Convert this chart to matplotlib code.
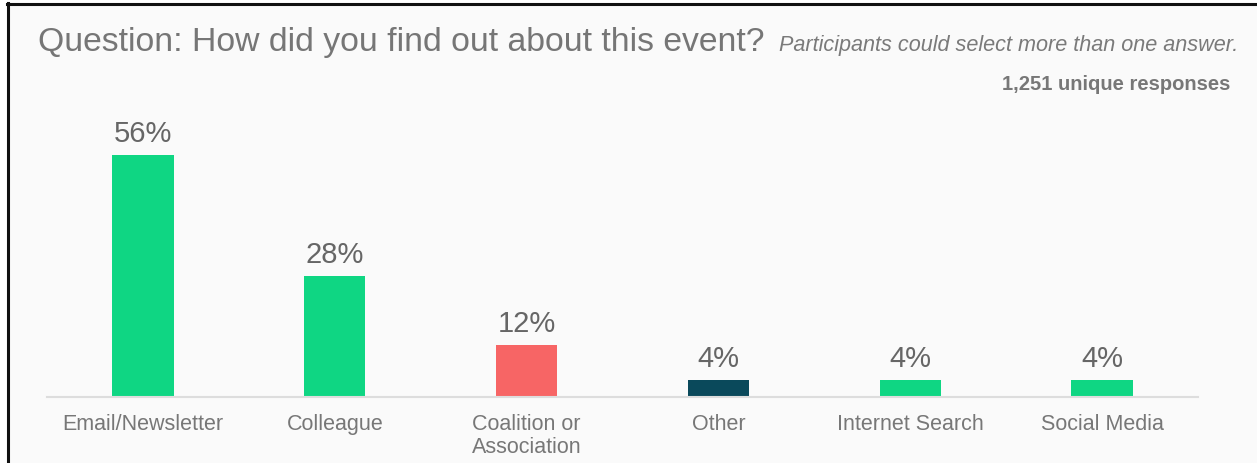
import matplotlib.pyplot as plt
from matplotlib.lines import Line2D

plt.rcParams['font.family'] = ['Liberation Sans', 'DejaVu Sans']

categories = ["Email/Newsletter", "Colleague", "Coalition or\nAssociation",
              "Other", "Internet Search", "Social Media"]
percents = [56, 28, 12, 4, 4, 4]
colors = ["#0fd683", "#0fd683", "#f76565", "#0a495b", "#0fd683", "#0fd683"]

W, H = 1257, 463
fig = plt.figure(figsize=(W / 100, H / 100), dpi=100)
fig.patch.set_facecolor("white")

# light panel with a dark frame on the left and top edges
panel = plt.Rectangle((8 / W, 0), 1 - 8 / W, 1 - 4 / H, transform=fig.transFigure,
                      facecolor="#fafafa", edgecolor="none", zorder=-2)
fig.patches.append(panel)
fig.lines.append(Line2D([8 / W, 8 / W], [0, 1 - 3 / H], transform=fig.transFigure,
                        color="#111111", lw=2.2))
fig.lines.append(Line2D([7 / W, 1], [1 - 4 / H, 1 - 4 / H], transform=fig.transFigure,
                        color="#111111", lw=2.2))

# axes: baseline at y=397px, x from 47 to 1198 px
ax = fig.add_axes([47 / W, 1 - 397 / H, (1198 - 47) / W, (397 - 100) / H])
ax.set_facecolor("none")
x = range(len(categories))
bars = ax.bar(x, percents, width=0.32, color=colors, zorder=2)
ax.set_xlim(-0.5, len(categories) - 0.5)
ax.set_ylim(0, (397 - 100) / 4.32)

for b, p in zip(bars, percents):
    ax.annotate(f"{p}%", (b.get_x() + b.get_width() / 2, p), xytext=(0, 5),
                textcoords="offset points", ha="center", va="bottom",
                fontsize=21, color="#666666")

ax.set_xticks(list(x))
ax.set_xticklabels(categories, fontsize=15.5, color="#777777", linespacing=1.15)
ax.tick_params(axis="x", length=0, pad=12)
ax.set_yticks([])
for s in ["top", "right", "left"]:
    ax.spines[s].set_visible(False)
ax.spines["bottom"].set_color("#dddddd")
ax.spines["bottom"].set_linewidth(1.5)

fig.text(38 / W, 1 - 43 / H, "Question: How did you find out about this event?",
         fontsize=24.3, color="#767676", va="center", ha="left")
fig.text(1238 / W, 1 - 45 / H, "Participants could select more than one answer.",
         fontsize=15.6, color="#7a7a7a", style="italic", va="center", ha="right")
fig.text(1230 / W, 1 - 85 / H, "1,251 unique responses",
         fontsize=14.5, color="#777777", weight="bold", va="center", ha="right")

fig.savefig("out.png", dpi=100)
